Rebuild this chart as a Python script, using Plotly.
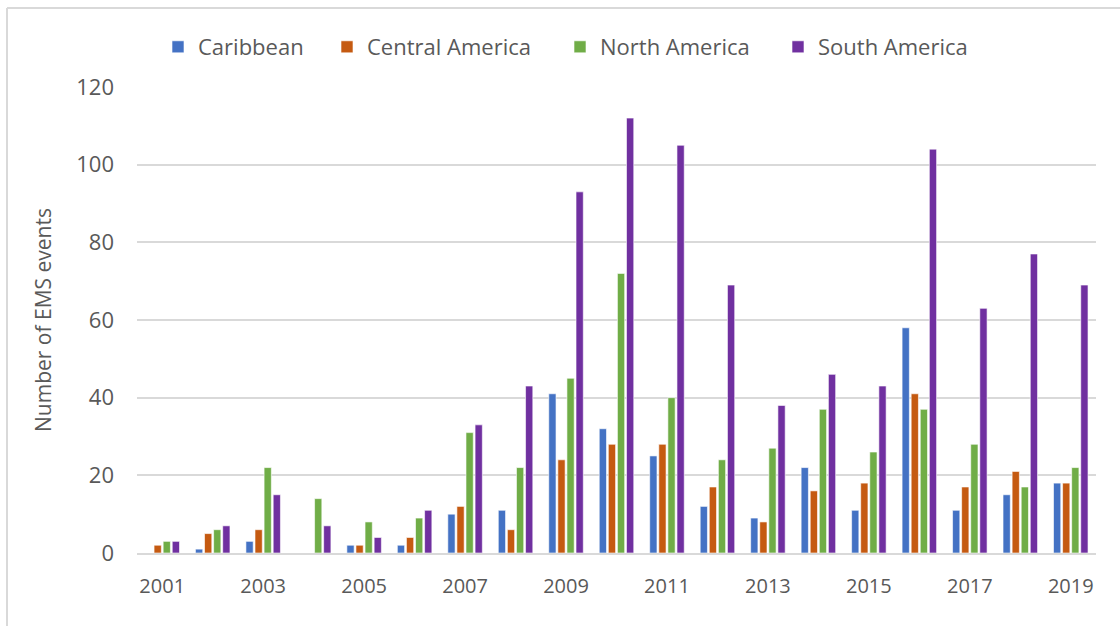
import plotly.graph_objects as go

years = [str(y) for y in range(2001, 2020)]
caribbean = [0, 1, 3, 0, 2, 2, 10, 11, 41, 32, 25, 12, 9, 22, 11, 58, 11, 15, 18]
central_america = [2, 5, 6, 0, 2, 4, 12, 6, 24, 28, 28, 17, 8, 16, 18, 41, 17, 21, 18]
north_america = [3, 6, 22, 14, 8, 9, 31, 22, 45, 72, 40, 24, 27, 37, 26, 37, 28, 17, 22]
south_america = [3, 7, 15, 7, 4, 11, 33, 43, 93, 112, 105, 69, 38, 46, 43, 104, 63, 77, 69]
tick_years = years[::2]

series = [
    ("Caribbean", caribbean, "#4472C4"),
    ("Central America", central_america, "#C55A11"),
    ("North America", north_america, "#70AD47"),
    ("South America", south_america, "#7030A0"),
]

FONT = "Open Sans, Liberation Sans, sans-serif"
GREY = "#595959"
LINE = "#d9d9d9"

# plot area in pixels
L, R, T, B = 137, 1096, 87, 553
W, H = 1120, 626
def px_x(p):
    return (p - L) / (R - L)
def px_y(p):
    return (B - p) / (B - T)

legend_keys = ["legend", "legend2", "legend3", "legend4"]
legend_x = [158, 327, 560, 778]

fig = go.Figure()
for (name, vals, col), lk in zip(series, legend_keys):
    fig.add_trace(go.Bar(
        x=years, y=vals, name=name, legend=lk, showlegend=True,
        marker=dict(color=col, line=dict(color="rgba(255,255,255,0.6)", width=1)),
    ))

layout_legends = {}
for lk, lx in zip(legend_keys, legend_x):
    layout_legends[lk] = dict(orientation="h", xref="container", yref="container",
                              x=lx / W, xanchor="left", y=1 - 47 / H, yanchor="middle",
                              font=dict(size=22, color=GREY, family=FONT),
                              itemwidth=30, bgcolor="rgba(0,0,0,0)")

fig.update_layout(
    width=W, height=H, showlegend=True,
    margin=dict(l=L, r=W - R, t=T, b=H - B, autoexpand=False),
    paper_bgcolor="white", plot_bgcolor="white",
    barmode="group", bargap=0.28, bargroupgap=0.2,
    font=dict(family=FONT, color=GREY, size=18),
    xaxis=dict(type="category", tickmode="array", tickvals=tick_years, ticktext=tick_years,
               showline=True, linecolor=LINE, linewidth=2, ticks="",
               ticklabelstandoff=14,
               tickfont=dict(size=20, color=GREY)),
    yaxis=dict(range=[0, 120], dtick=20, showgrid=True, gridcolor=LINE, gridwidth=2,
               zeroline=False, ticks="", tickfont=dict(size=22, color=GREY),
               ticklabelstandoff=22,
               title=dict(text="Number of EMS events", font=dict(size=21, color=GREY), standoff=18)),
    shapes=[
        dict(type="line", xref="paper", yref="paper", x0=px_x(7), x1=px_x(1120),
             y0=px_y(8), y1=px_y(8), line=dict(color=LINE, width=2)),
        dict(type="line", xref="paper", yref="paper", x0=px_x(7), x1=px_x(7),
             y0=px_y(8), y1=px_y(626), line=dict(color=LINE, width=2)),
    ],
    **layout_legends,
)

fig.write_html("out.html", config={"displayModeBar": False},
               post_script="document.body.style.margin='0';")
